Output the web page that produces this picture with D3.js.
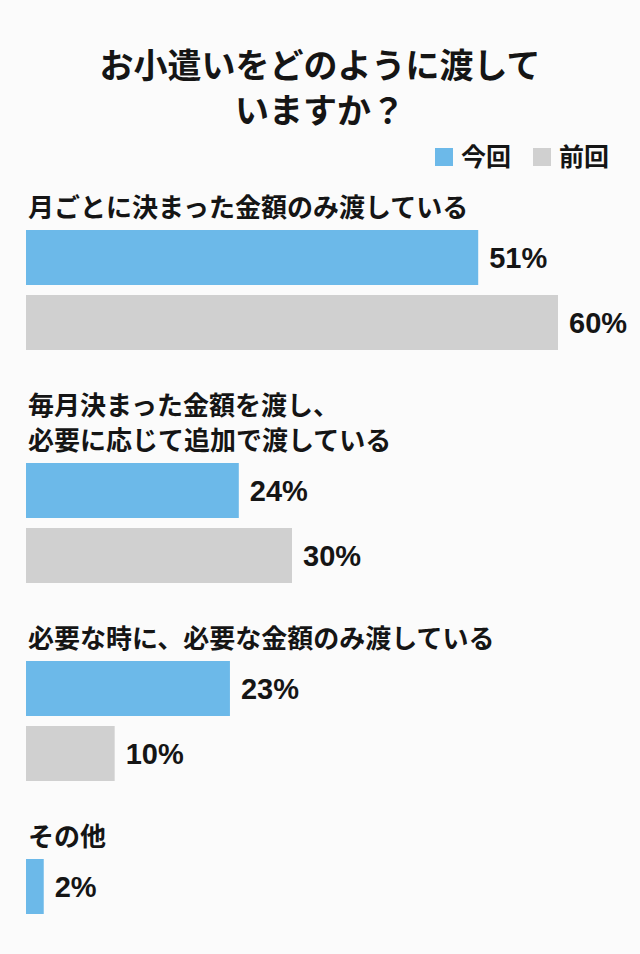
<!DOCTYPE html>
<html>
<head lang="ja">
    <meta charset="UTF-8">
    <title>お小遣いをどのように渡していますか？</title>
    <style>
        html, body { margin: 0; padding: 0; background: #fbfbfb; }
        svg { display: block; }
    </style>
</head>
<body>
<div id="chart"></div>

<script src="https://cdn.jsdelivr.net/npm/d3@7/dist/d3.min.js"></script>
<script>
    // データ
    var titleLines = ["お小遣いをどのように渡して", "いますか？"];
    var seriesNames = ["今回", "前回"];
    var seriesColors = ["#6cb9e9", "#d0d0d0"];
    var categories = [
        ["月ごとに決まった金額のみ渡している"],
        ["毎月決まった金額を渡し、", "必要に応じて追加で渡している"],
        ["必要な時に、必要な金額のみ渡している"],
        ["その他"]
    ];
    var current = [51, 24, 23, 2];
    var previous = [60, 30, 10, null];

    var W = 640, H = 954;
    var jpFont = "'Noto Sans CJK JP', 'Noto Sans', sans-serif";
    var numFont = "'Liberation Sans', Arial, sans-serif";

    var svg = d3.select("#chart").append("svg")
        .attr("width", W)
        .attr("height", H);

    svg.append("rect").attr("width", W).attr("height", H).attr("fill", "#fbfbfb");

    // タイトル
    svg.append("g").selectAll("text")
        .data(titleLines)
        .join("text")
        .attr("x", W / 2)
        .attr("y", function(d, i){ return 66 + i * 45; })
        .attr("dy", "0.35em")
        .attr("text-anchor", "middle")
        .attr("font-family", jpFont)
        .attr("font-weight", 700)
        .attr("font-size", 34)
        .attr("fill", "#151515")
        .text(function(d){ return d; });

    // 凡例
    var legendX = [435, 533];
    var legend = svg.append("g").selectAll("g")
        .data(seriesNames)
        .join("g")
        .attr("transform", function(d, i){ return "translate(" + legendX[i] + ",157)"; });
    legend.append("rect")
        .attr("x", 0).attr("y", -9)
        .attr("width", 18).attr("height", 18)
        .attr("fill", function(d, i){ return seriesColors[i]; });
    legend.append("text")
        .attr("x", 26)
        .attr("dy", "0.36em")
        .attr("font-family", jpFont)
        .attr("font-weight", 700)
        .attr("font-size", 25)
        .attr("fill", "#151515")
        .text(function(d){ return d; });

    // スケール
    var x = d3.scaleLinear().domain([0, 60]).range([26, 558]);

    var lineStep = 35, labelToBar = 22, barH = 55, barStep = 65, groupGap = 56;

    // グループごとの配置を計算
    var groups = [];
    var y = 208;
    categories.forEach(function(lines, i){
        var vals = [current[i], previous[i]].filter(function(v){ return v != null; });
        var labelY = y;
        var barTop = labelY + (lines.length - 1) * lineStep + labelToBar;
        groups.push({lines: lines, labelY: labelY, barTop: barTop, values: [current[i], previous[i]]});
        y = barTop + (vals.length - 1) * barStep + barH + groupGap;
    });

    var g = svg.append("g").selectAll("g")
        .data(groups)
        .join("g");

    // 項目ラベル
    g.selectAll("text.cat")
        .data(function(d){ return d.lines.map(function(t, j){ return {t: t, y: d.labelY + j * lineStep}; }); })
        .join("text")
        .attr("class", "cat")
        .attr("x", 28)
        .attr("y", function(d){ return d.y; })
        .attr("dy", "0.36em")
        .attr("font-family", jpFont)
        .attr("font-weight", 700)
        .attr("font-size", 26)
        .attr("fill", "#151515")
        .text(function(d){ return d.t; });

    // 棒
    var bars = g.selectAll("g.bar")
        .data(function(d){
            return d.values
                .map(function(v, j){ return {v: v, s: j, top: d.barTop + j * barStep}; })
                .filter(function(b){ return b.v != null; });
        })
        .join("g")
        .attr("class", "bar");

    bars.append("rect")
        .attr("x", x(0))
        .attr("y", function(d){ return d.top; })
        .attr("width", function(d){ return x(d.v) - x(0); })
        .attr("height", barH)
        .attr("fill", function(d){ return seriesColors[d.s]; });

    bars.append("text")
        .attr("x", function(d){ return x(d.v) + 11; })
        .attr("y", function(d){ return d.top + barH / 2; })
        .attr("dy", "0.36em")
        .attr("font-family", numFont)
        .attr("font-weight", 700)
        .attr("font-size", 29)
        .attr("fill", "#151515")
        .text(function(d){ return d.v + "%"; });
</script>
</body>
</html>
